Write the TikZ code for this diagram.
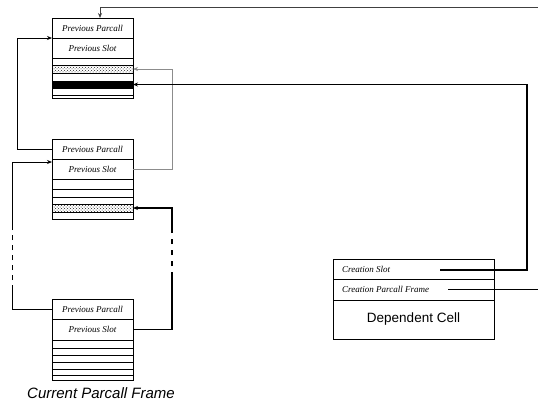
\documentclass[tikz,border=0pt]{standalone}
\usepackage{fontspec}
\setmainfont{Liberation Serif}
\setsansfont{Liberation Sans}
\usetikzlibrary{arrows.meta,calc,patterns}
\begin{document}
\begin{tikzpicture}[x=1pt,y=-1pt,
  cell/.style={draw=black,line width=0.7pt,rectangle,inner sep=0pt,outer sep=0pt,
    minimum width=81pt,font=\fontsize{9}{10}\selectfont\itshape},
  slotrow/.style={cell,minimum height=#1},
  hatch/.style={pattern=crosshatch dots,pattern color=black!85},
  dep/.style={draw=black,line width=0.7pt,rectangle,inner sep=0pt,outer sep=0pt,
    minimum width=161pt},
  link/.style={line width=0.9pt,-{Stealth[length=5pt,width=4pt]}},
  plain/.style={line width=0.9pt}]
\useasboundingbox (0,0) rectangle (538,405);

% frame 1 (top)
\node[slotrow=20pt] (f1a) at (92.5,28) {Previous Parcall};
\node[slotrow=20pt] (f1b) at (92.5,48) {Previous Slot};
\node[slotrow=7pt] (f1c) at (92.5,61.5) {};
\node[slotrow=8pt,hatch] (f1d) at (92.5,69) {};
\node[slotrow=8pt] (f1e) at (92.5,77) {};
\node[slotrow=7pt,fill=black] (f1f) at (92.5,84.5) {};
\node[slotrow=7pt] (f1g) at (92.5,91.5) {};
\node[slotrow=3pt] (f1h) at (92.5,96.5) {};

% frame 2 (middle)
\node[slotrow=20pt] (f2a) at (92.5,149) {Previous Parcall};
\node[slotrow=20pt] (f2b) at (92.5,169) {Previous Slot};
\node[slotrow=10pt] (f2c) at (92.5,184) {};
\node[slotrow=8pt] (f2d) at (92.5,193) {};
\node[slotrow=7pt] (f2e) at (92.5,200.5) {};
\node[slotrow=8pt,hatch] (f2f) at (92.5,208) {};
\node[slotrow=7pt] (f2g) at (92.5,215.5) {};

% frame 3 (current)
\node[slotrow=20pt] (f3a) at (92.5,309) {Previous Parcall};
\node[slotrow=21pt] (f3b) at (92.5,329.5) {Previous Slot};
\node[slotrow=8pt] (f3c) at (92.5,344) {};
\node[slotrow=7pt] (f3d) at (92.5,351.5) {};
\node[slotrow=7pt] (f3e) at (92.5,358.5) {};
\node[slotrow=7pt] (f3f) at (92.5,365.5) {};
\node[slotrow=6pt] (f3g) at (92.5,372) {};
\node[slotrow=5pt] (f3h) at (92.5,377.5) {};
\node[font=\sffamily\itshape\fontsize{15}{17}\selectfont] (cap) at (101,393) {Current Parcall Frame};

% dependent cell
\node[dep,minimum height=20pt] (d1) at (413.5,269) {};
\node[dep,minimum height=21pt] (d2) at (413.5,289.5) {};
\node[dep,minimum height=39pt,font=\sffamily\fontsize{13.5}{15}\selectfont] (d3) at (413.5,319.5) {Dependent Cell};
\node[anchor=west,inner sep=0pt,font=\fontsize{9}{10}\selectfont\itshape] (d1t) at (342,269) {Creation Slot};
\node[anchor=west,inner sep=0pt,font=\fontsize{9}{10}\selectfont\itshape] (d2t) at (342,289) {Creation Parcall Frame};

% loose ends
\coordinate (topin) at (538,7);
\coordinate (cs) at (440,270);
\coordinate (cpf) at (448,289);
\coordinate (cpfout) at (538,289);
\coordinate (ld1) at (12,290);
\coordinate (ld2) at (12,228);
\coordinate (rd1) at (172,277);
\coordinate (rd2) at (172,232);

% connectors
\draw[link,draw=black!75] (topin) -| ($(f1a.north)+(7.5,0)$);
\draw[link,draw=black!45,line width=0.8pt] (f2b.east) -- ++(39,0) |- (f1d.east);
\draw[link,line width=1.3pt] (cs) -- ++(87,0) |- (f1f.east);
\draw[plain,line width=0.7pt] (cpf) -- (cpfout);
\draw[link] (f2a.west) -- ++(-35,0) |- (f1a.south west);

\draw[plain] (f3a.west) -| (ld1);
\draw[plain,dash pattern=on 5pt off 5pt] (ld1) -- (ld2);
\draw[link] (ld2) |- ($(f2b.north west)+(0,3)$);

\draw[plain,line width=1.2pt] (f3b.east) -| (rd1);
\draw[plain,line width=1.2pt,dash pattern=on 5pt off 6pt] (rd1) -- (rd2);
\draw[link,line width=1.2pt] (rd2) |- (f2f.east);
\end{tikzpicture}
\end{document}
